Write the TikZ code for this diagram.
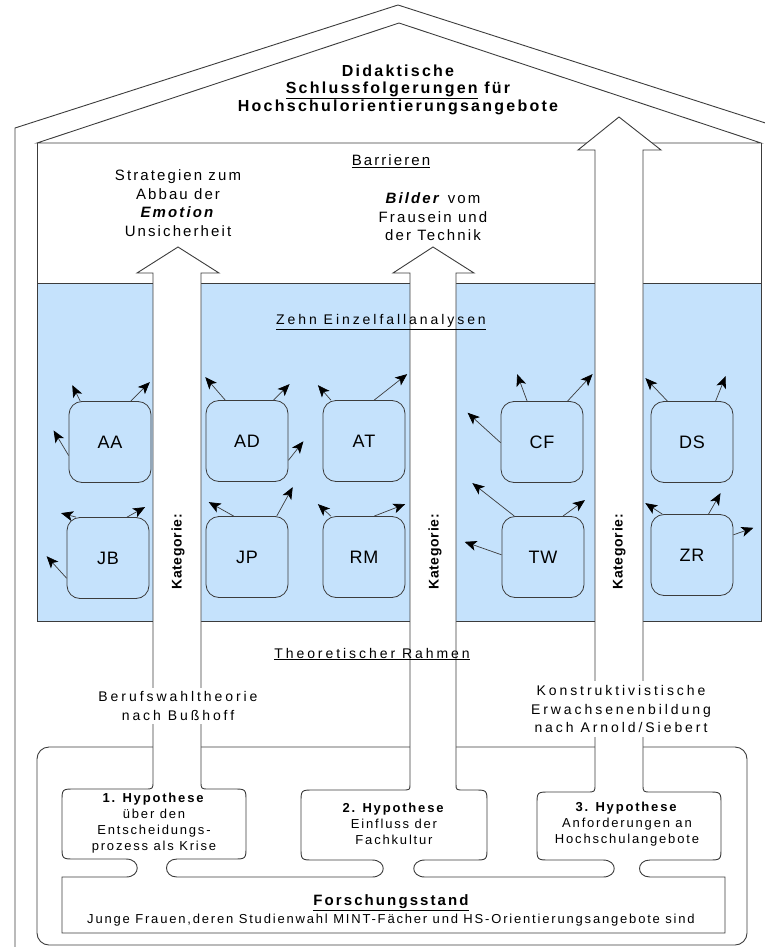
\documentclass[tikz,border=0pt]{standalone}
\usepackage{fontspec}
\setmainfont{Liberation Sans}[LetterSpace=14]
\newfontfamily\widefont{Liberation Sans}[LetterSpace=21]
\newfontfamily\tightfont{Liberation Sans}[LetterSpace=5]
\usetikzlibrary{arrows.meta}

\definecolor{caseblue}{RGB}{197,226,252}
\definecolor{linegray}{RGB}{60,60,60}

\tikzset{
  wall/.style={draw=linegray,line width=0.9pt},
  blockarrow/.style={draw=linegray,fill=white,line width=0.9pt},
  casebox/.style={draw=linegray,fill=caseblue,line width=0.8pt,rounded corners=13pt,
    minimum width=82pt,minimum height=81pt,inner sep=0pt,font=\tightfont\fontsize{18}{18}\selectfont},
  casearrow/.style={draw=linegray,line width=0.7pt,-{Stealth[length=12pt,width=10pt,inset=3pt,color=black]}},
  titletext/.style={align=center,font=\bfseries\fontsize{16}{17.5}\selectfont},
  toptext/.style={align=center,font=\fontsize{15}{18.5}\selectfont},
  midtext/.style={align=center,font=\widefont\fontsize{14}{18.5}\selectfont},
  hyptext/.style={align=center,font=\fontsize{13}{16}\selectfont},
  kattext/.style={rotate=90,font=\tightfont\bfseries\fontsize{14}{14}\selectfont}
}

\begin{document}
\begin{tikzpicture}[x=1pt,y=-1pt]
\useasboundingbox (0,0) rectangle (765,947);

% house
\draw[wall] (15,947) -- (15,128) -- (398,5) -- (781,128) -- (781,947);
\fill[caseblue] (37,283) rectangle (761,621);
\draw[wall] (37,143) -- (399,23) -- (761,143) -- cycle;
\draw[wall] (37,143) -- (37,621) -- (761,621) -- (761,143);
\draw[wall] (37,283) -- (761,283);

% research frame and hypotheses
\draw[wall,rounded corners=12pt] (37,747) rectangle (747,945);
\draw[wall] (153,781) .. controls (153,789) .. (145,789) -- (75,789)
    .. controls (62,789) .. (62,802) -- (62,846) .. controls (62,859) .. (75,859)
    -- (126,859) .. controls (141,859) and (141,877) .. (126,877) -- (62,877)
    -- (62,933) -- (725,933) -- (725,877) -- (650,877)
    .. controls (636,877) and (636,860) .. (650,860) -- (708,860)
    .. controls (721,860) .. (721,847) -- (721,805) .. controls (721,792) .. (708,792)
    -- (651,792) .. controls (643,792) .. (643,784)
  (201,781) .. controls (201,789) .. (209,789) -- (233,789)
    .. controls (246,789) .. (246,802) -- (246,846) .. controls (246,859) .. (233,859)
    -- (177,859) .. controls (163,859) and (163,877) .. (177,877) -- (372,877)
    .. controls (387,877) and (387,860) .. (372,860) -- (314,860)
    .. controls (301,860) .. (301,847) -- (301,803) .. controls (301,790) .. (314,790)
    -- (402,790) .. controls (410,790) .. (410,784)
  (456,784) .. controls (456,790) .. (464,790) -- (474,790)
    .. controls (487,790) .. (487,803) -- (487,847) .. controls (487,860) .. (474,860)
    -- (425,860) .. controls (410,860) and (410,877) .. (425,877) -- (603,877)
    .. controls (618,877) and (618,860) .. (603,860) -- (550,860)
    .. controls (537,860) .. (537,847) -- (537,805) .. controls (537,792) .. (550,792)
    -- (587,792) .. controls (595,792) .. (595,784);

% category arrows
\filldraw[blockarrow] (153,781) -- (153,273) -- (137,273) -- (178,247) -- (219,273) -- (201,273) -- (201,781);
\filldraw[blockarrow] (410,784) -- (410,273) -- (393,273) -- (433,247) -- (474,273) -- (456,273) -- (456,784);
\filldraw[blockarrow] (595,784) -- (595,150) -- (578,150) -- (619,117) -- (661,150) -- (643,150) -- (643,784);

% cases
\node[casebox] (AA) at (110,442) {AA};
\node[casebox] (JB) at (108,558) {JB};
\node[casebox] (AD) at (247,441) {AD};
\node[casebox] (AT) at (364,441) {AT};
\node[casebox] (JP) at (247,557) {JP};
\node[casebox] (RM) at (364,557) {RM};
\node[casebox] (CF) at (542,442) {CF};
\node[casebox] (TW) at (543,557) {TW};
\node[casebox] (DS) at (692,442) {DS};
\node[casebox] (ZR) at (692,555) {ZR};

\foreach \c/\a/\dx/\dy [count=\i] in {AA/126/-8/-16, AA/63/19/-19, AA/198/-15/-25,
    JB/128/-15/-4, JB/65/18/-10, JB/206/-20/-22, AD/118/-20/-23, AD/57/16/-16,
    AD/335/15/-19, AT/129/-13/-15, AT/76/33/-26, JP/108/-25/-14, JP/54/16/-29,
    RM/129/-13/-12, RM/76/31/-12, CF/110/-10/-27, CF/58/25/-27, CF/181/-33/-30,
    TW/125/-42/-33, TW/64/22/-16, TW/177/-37/-13, DS/121/-22/-23, DS/60/10/-25,
    ZR/126/-17/-11, ZR/68/12/-21, ZR/26/20/-7}
{
  \path (\c.\a) ++(\dx,\dy) coordinate (tip\i);
  \draw[casearrow] (\c.\a) -- (tip\i);
}

% texts
\node[titletext] (title) at (398,89.5) {Didaktische\\\underline{Schlussfolgerungen} für\\Hochschulorientierungsangebote};
\node[toptext] (barrieren) at (391,161) {\underline{Barrieren}};
\node[toptext] (strategien) at (178,203) {Strategien zum\\Abbau der\\\textbf{\textit{Emotion}}\\Unsicherheit};
\node[toptext] (bilder) at (433,217) {\textbf{\textit{Bilder}} vom\\Frausein und\\der Technik};
\node[midtext] (zehn) at (381,322) {\underline{Zehn Einzelfallanalysen}};
\node[midtext] (theorie) at (372,654) {\underline{Theoretischer Rahmen}};
\node[midtext,fill=white,inner sep=4pt] (berufswahl) at (178,706) {Berufswahltheorie\\nach Bußhoff};
\node[midtext,fill=white,inner sep=4pt] (konstrukt) at (621,709) {Konstruktivistische\\Erwachsenenbildung\\nach Arnold/Siebert};
\node[kattext] (katA) at (178,552) {Kategorie:};
\node[kattext] (katB) at (435,552) {Kategorie:};
\node[kattext] (katC) at (619,552) {Kategorie:};
\node[hyptext] (hypA) at (154,823) {\textbf{1. Hypothese}\\über den\\Entscheidungs-\\prozess als Krise};
\node[hyptext] (hypB) at (394,824) {\textbf{2. Hypothese}\\Einfluss der\\Fachkultur};
\node[hyptext] (hypC) at (627,824) {\textbf{3. Hypothese}\\Anforderungen an\\Hochschulangebote};
\node[font=\bfseries\fontsize{15}{15}\selectfont] (forschung) at (391,903) {\underline{Forschungsstand}};
\node[hyptext] (junge) at (391,920) {Junge Frauen,deren Studienwahl MINT-Fächer und HS-Orientierungsangebote sind};
\end{tikzpicture}
\end{document}
